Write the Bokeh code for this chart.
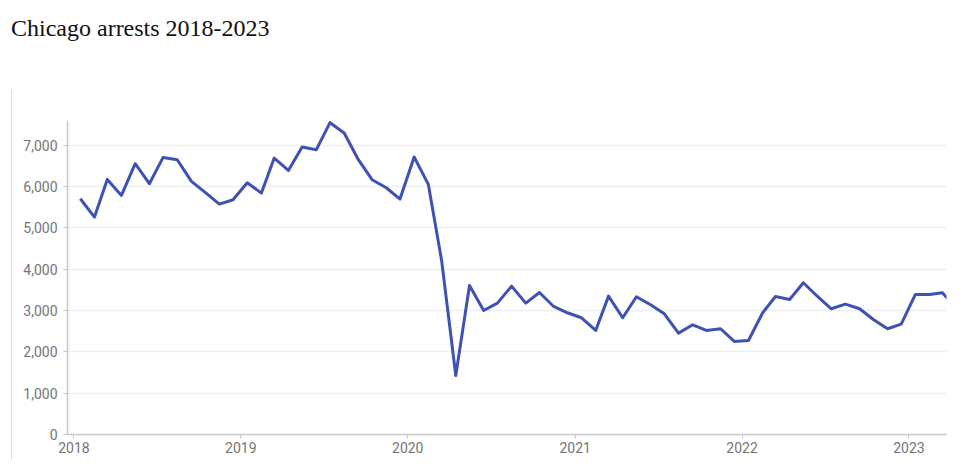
from datetime import datetime
import pandas as pd
from bokeh.plotting import figure
from bokeh.models import (Range1d, FixedTicker, NumeralTickFormatter,
                          DatetimeTickFormatter, ColumnDataSource, Div)
from bokeh.layouts import column
from bokeh.embed import file_html
from bokeh.resources import INLINE

title_text = "Chicago arrests 2018-2023"

# monthly arrests, Jan 2018 .. Apr 2023 (mid-month points)
arrests_2018 = [5707, 5262, 6174, 5787, 6554, 6070, 6707, 6651, 6126, 5860, 5577, 5683]
arrests_2019 = [6094, 5843, 6690, 6392, 6957, 6893, 7547, 7296, 6651, 6167, 5973, 5698]
arrests_2020 = [6715, 6053, 4213, 1429, 3608, 3002, 3180, 3591, 3180, 3438, 3099, 2946]
arrests_2021 = [2825, 2518, 3349, 2825, 3333, 3140, 2922, 2453, 2656, 2518, 2559, 2252]
arrests_2022 = [2276, 2946, 3341, 3269, 3673, 3341, 3043, 3155, 3043, 2784, 2559, 2671]
arrests_2023 = [3390, 3390, 3431, 3050]

values = arrests_2018 + arrests_2019 + arrests_2020 + arrests_2021 + arrests_2022 + arrests_2023
months = pd.date_range("2018-01-01", periods=len(values), freq="MS") + pd.Timedelta(days=14)

tick_years = [2018, 2019, 2020, 2021, 2022, 2023]
y_ticks = [0, 1000, 2000, 3000, 4000, 5000, 6000, 7000]

src = ColumnDataSource(dict(x=months, y=values))

p = figure(width=950, height=370, output_backend="svg", toolbar_location=None,
           x_axis_type="datetime",
           x_range=Range1d(datetime(2017, 12, 18), datetime(2023, 3, 24)),
           y_range=Range1d(0, 7600),
           min_border_left=55, min_border_right=16, min_border_top=30, min_border_bottom=26,
           styles={"border-left": "1px solid #dddddd"})
p.margin = (0, 0, 0, 11)
p.outline_line_color = None
p.background_fill_color = "white"
p.border_fill_color = "white"

p.line("x", "y", source=src, line_color="#3f51b5", line_width=3, line_join="round")

axis_gray = "#c8c8c8"
label_gray = "#757575"

p.xaxis.ticker = FixedTicker(ticks=[datetime(yy, 1, 1).timestamp() * 1000 for yy in tick_years])
p.xaxis.formatter = DatetimeTickFormatter(years="%Y", months="%Y", days="%Y")
p.yaxis.ticker = FixedTicker(ticks=y_ticks)
p.yaxis.formatter = NumeralTickFormatter(format="0,0")

for ax in (p.xaxis[0], p.yaxis[0]):
    ax.axis_line_color = axis_gray
    ax.axis_line_width = 1.5
    ax.major_tick_line_color = axis_gray
    ax.major_tick_out = 4
    ax.major_tick_in = 0
    ax.minor_tick_line_color = None
    ax.major_label_text_font = "Roboto"
    ax.major_label_text_font_size = "14px"
    ax.major_label_text_color = label_gray
p.yaxis.major_label_standoff = 6
p.xaxis.major_label_standoff = 3

p.xgrid.grid_line_color = None
p.ygrid.grid_line_color = "#efefef"
p.ygrid.grid_line_width = 1.5

title = Div(text=title_text, width=900, height=80,
            styles={"font-family": "Liberation Serif", "font-size": "24px",
                    "color": "#111111", "padding-left": "6px", "padding-top": "6px"})

layout = column(title, p)
open("out.html", "w").write(file_html(layout, INLINE))
